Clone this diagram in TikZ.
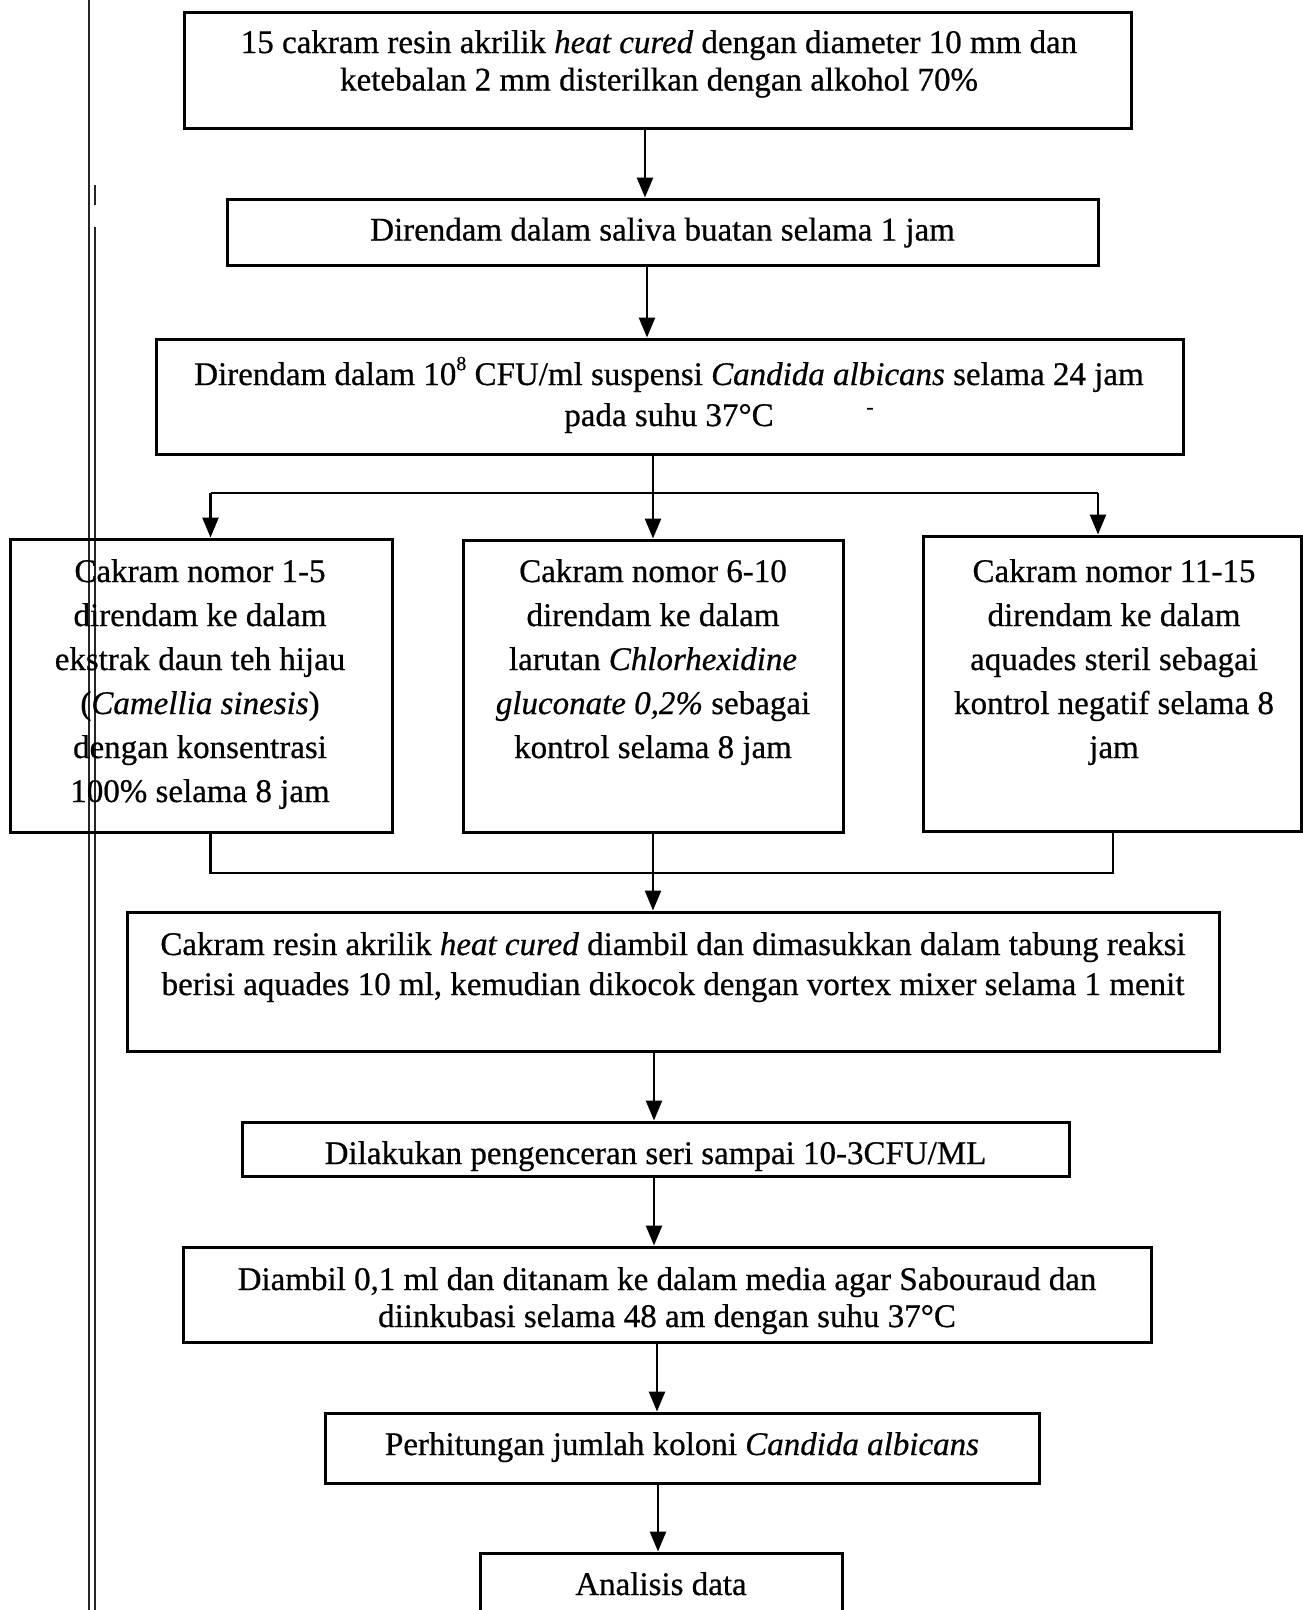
\documentclass[tikz,border=0pt]{standalone}
\usepackage{fontspec}
\setmainfont{Liberation Serif}[FakeBold=0.6]
\usetikzlibrary{arrows.meta}
\begin{document}
\begin{tikzpicture}[x=1pt,y=-1pt,
  box/.style={draw=black,line width=3pt,inner sep=0pt},
  txt/.style={anchor=base,inner sep=0pt,font=\fontsize{33}{37}\selectfont},
  ln/.style={line width=2.6pt},
  arr/.style={line width=2.6pt,-{Triangle[width=16pt,length=20pt]}},
  scan/.style={line width=1.6pt,black!85}]
\useasboundingbox (0,0) rectangle (1303,1610);
\fill[white] (0,0) rectangle (1303,1610);
% scan margin lines
\draw[scan] (89,0) -- (89,1610);
\draw[scan] (95,185) -- (95,205);
\draw[scan] (95,227) -- (95,1610);
% boxes
\node[box,minimum width=947pt,minimum height=116pt] (b1) at (657.5,70) {};
\node[box,minimum width=871pt,minimum height=66pt] (b2) at (662.5,232) {};
\node[box,minimum width=1027pt,minimum height=115pt] (b3) at (669.5,396.5) {};
\node[box,minimum width=382pt,minimum height=293pt] (b4) at (201,685.5) {};
\node[box,minimum width=380pt,minimum height=292pt] (b5) at (653,686) {};
\node[box,minimum width=378pt,minimum height=295pt] (b6) at (1112,683.5) {};
\node[box,minimum width=1092pt,minimum height=139pt] (b7) at (673,981.5) {};
\node[box,minimum width=827pt,minimum height=54pt] (b8) at (655.5,1149) {};
\node[box,minimum width=968pt,minimum height=95pt] (b9) at (667,1294.5) {};
\node[box,minimum width=714pt,minimum height=70pt] (b10) at (682,1448) {};
\node[box,minimum width=362pt,minimum height=100pt] (b11) at (661,1603) {};
% texts
\node[txt] (t1a) at (659,53) {15 cakram resin akrilik \textit{heat cured} dengan diameter 10 mm dan};
\node[txt] (t1b) at (659,90.5) {ketebalan 2 mm disterilkan dengan alkohol 70\%};
\node[txt] (t2) at (662.5,240.5) {Direndam dalam saliva buatan selama 1 jam};
\node[txt] (t3a) at (669,385) {Direndam dalam 10\raisebox{0.45em}{\fontsize{20}{20}\selectfont 8} CFU/ml suspensi \textit{Candida albicans} selama 24 jam};
\node[txt] (t3b) at (669,426) {pada suhu 37°C};
\node[anchor=base,inner sep=0pt,font=\fontsize{22}{24}\selectfont] (dash) at (870,414) {-};
\node[txt] (t4a) at (200,582) {Cakram nomor 1-5};
\node[txt] (t4b) at (200,626) {direndam ke dalam};
\node[txt] (t4c) at (200,670) {ekstrak daun teh hijau};
\node[txt] (t4d) at (200,714) {(\textit{Camellia sinesis})};
\node[txt] (t4e) at (200,758) {dengan konsentrasi};
\node[txt] (t4f) at (200,802) {100\% selama 8 jam};
\node[txt] (t5a) at (653,582) {Cakram nomor 6-10};
\node[txt] (t5b) at (653,626) {direndam ke dalam};
\node[txt] (t5c) at (653,670) {larutan \textit{Chlorhexidine}};
\node[txt] (t5d) at (653,714) {\textit{gluconate 0,2\%} sebagai};
\node[txt] (t5e) at (653,758) {kontrol selama 8 jam};
\node[txt] (t6a) at (1114,582) {Cakram nomor 11-15};
\node[txt] (t6b) at (1114,626) {direndam ke dalam};
\node[txt] (t6c) at (1114,670) {aquades steril sebagai};
\node[txt] (t6d) at (1114,714) {kontrol negatif selama 8};
\node[txt] (t6e) at (1114,758) {jam};
\node[txt] (t7a) at (673,955) {Cakram resin akrilik \textit{heat cured} diambil dan dimasukkan dalam tabung reaksi};
\node[txt] (t7b) at (673,995) {berisi aquades 10 ml, kemudian dikocok dengan vortex mixer selama 1 menit};
\node[txt] (t8) at (655.5,1164) {Dilakukan pengenceran seri sampai 10-3CFU/ML};
\node[txt] (t9a) at (667,1290) {Diambil 0,1 ml dan ditanam ke dalam media agar Sabouraud dan};
\node[txt] (t9b) at (667,1327) {diinkubasi selama 48 am dengan suhu 37°C};
\node[txt] (t10) at (682,1455) {Perhitungan jumlah koloni \textit{Candida albicans}};
\node[txt] (t11) at (661,1595) {Analisis data};
% connector coordinates
\coordinate (xa) at (645,0);
\coordinate (xb) at (647,0);
\coordinate (br) at (653,493);
\coordinate (brL) at (210.5,493);
\coordinate (brR) at (1098,493);
\coordinate (jL) at (210.5,873);
\coordinate (jM) at (653,873);
\coordinate (jR) at (1113,873);
\coordinate (xc) at (654,0);
\coordinate (xd) at (657,0);
\coordinate (xe) at (658,0);
% connectors
\draw[arr] (b1.south -| xa) -- (b2.north -| xa);
\draw[arr] (b2.south -| xb) -- (b3.north -| xb);
\draw[ln] (b3.south -| br) -- (br);
\draw[ln] (brL) -- (brR);
\draw[arr] (brL) -- (b4.north -| brL);
\draw[arr] (br) -- (b5.north -| br);
\draw[arr] (brR) -- (b6.north -| brR);
\draw[ln] (b4.south -| jL) -- (jL) -- (jR) -- (b6.south -| jR);
\draw[ln] (b5.south -| jM) -- (jM);
\draw[arr] (jM) -- (b7.north -| jM);
\draw[arr] (b7.south -| xc) -- (b8.north -| xc);
\draw[arr] (b8.south -| xc) -- (b9.north -| xc);
\draw[arr] (b9.south -| xd) -- (b10.north -| xd);
\draw[arr] (b10.south -| xe) -- (b11.north -| xe);
\end{tikzpicture}
\end{document}
